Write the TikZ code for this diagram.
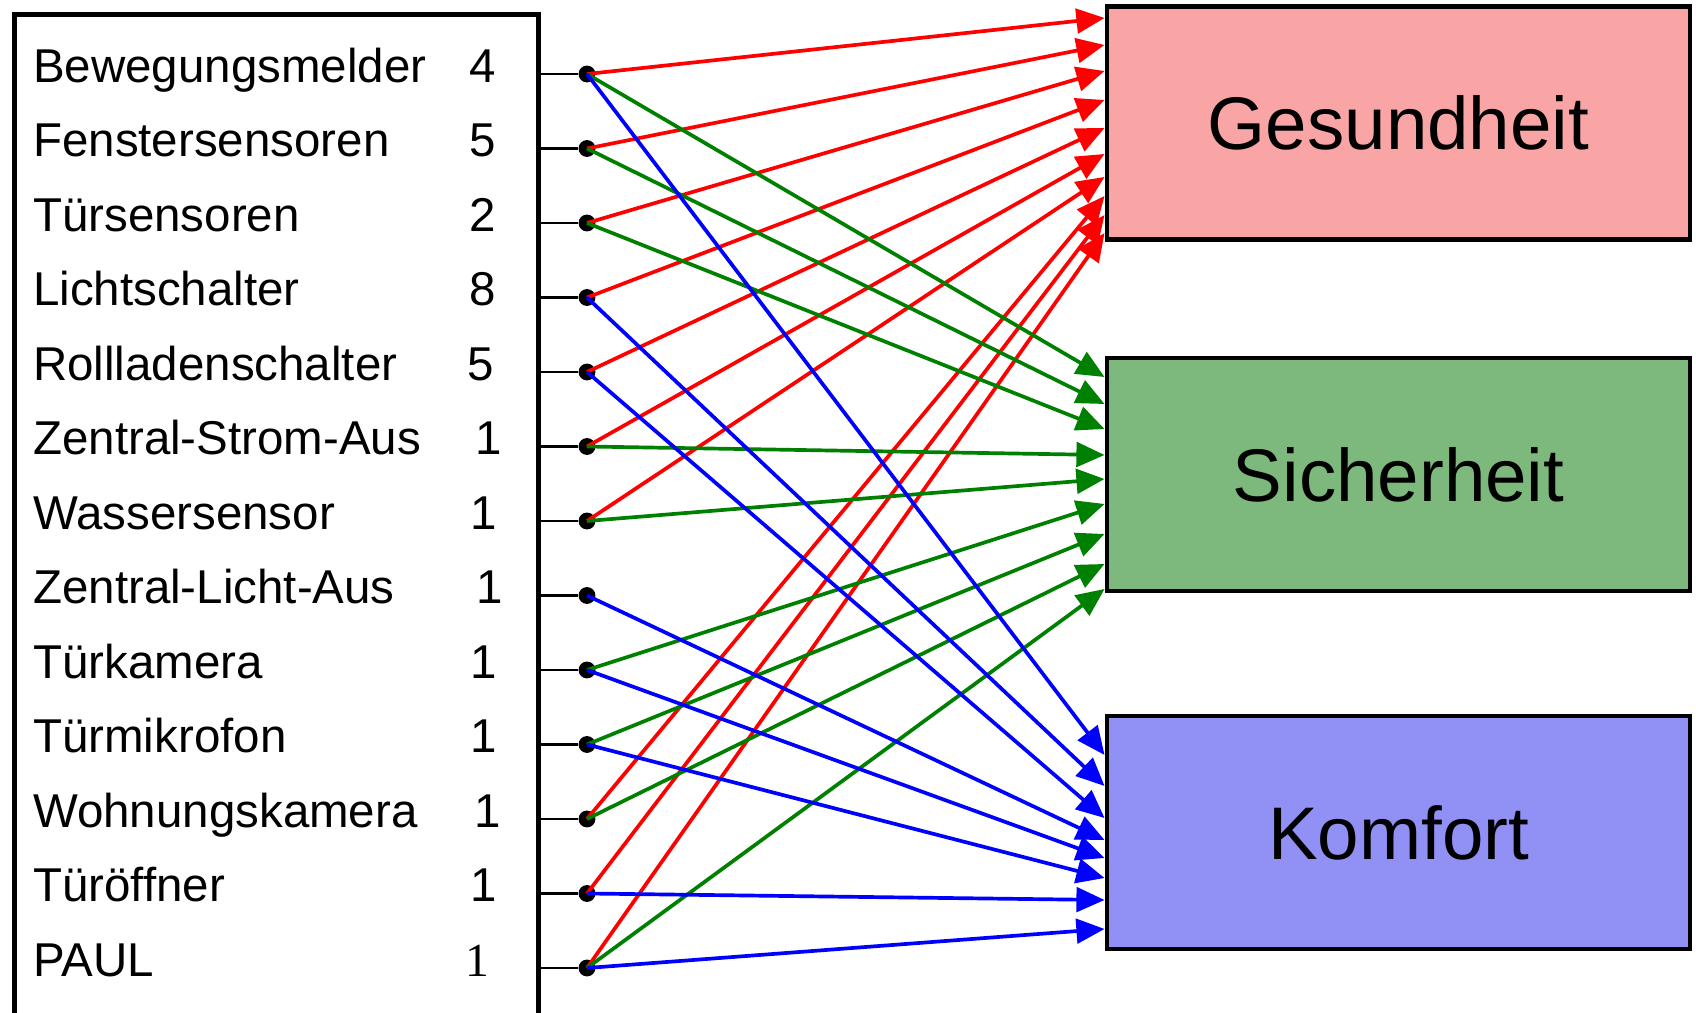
\documentclass[tikz,border=0pt]{standalone}
\usepackage{fontspec}
\setmainfont{Liberation Sans}
\newfontfamily\timesfont{Liberation Serif}
\usetikzlibrary{arrows.meta,shapes}

\definecolor{gesfill}{RGB}{250,165,165}
\definecolor{sichfill}{RGB}{125,185,125}
\definecolor{komffill}{RGB}{145,145,245}
\definecolor{darkgreen}{RGB}{0,128,0}

\begin{document}
\begin{tikzpicture}[x=0.01cm, y=-0.01cm]
	\tikzstyle{arrow}=[draw, line width=1.05pt, -{Triangle[length=8pt,width=7pt]}]
	\tikzstyle{dot}=[circle, fill=black, inner sep=0pt, minimum size=4.8pt]
	\tikzstyle{stub}=[draw, line width=0.75pt]
	\tikzstyle{lbl}=[anchor=base west, inner sep=0pt, font=\fontsize{13.5}{16}\selectfont]
	\tikzstyle{num}=[anchor=base, inner sep=0pt, font=\fontsize{13.5}{16}\selectfont]
	\tikzstyle{catbox}=[draw, line width=1.3pt, minimum width=5.83cm, minimum height=2.33cm, font=\fontsize{21.2}{25}\selectfont]
	\newcommand\Xtxt{32.5}
	\newcommand\Xnum{483}
	\newcommand\Xdot{587}
	\newcommand\Xcat{1398.5}

	\path [use as bounding box, clip] (0,0) rectangle (1696,1013);

	% Sensor list
	\node [draw, line width=1.4pt, anchor=north west, minimum width=5.235cm, minimum height=10.5cm] (list) at (12,12) {};

	\node [lbl] (bewtxt) at (\Xtxt, 82.5) {Bewegungsmelder};
	\node [lbl] (fentxt) at (\Xtxt, 157) {Fenstersensoren};
	\node [lbl] (tsentxt) at (\Xtxt, 231.5) {Türsensoren};
	\node [lbl] (lichttxt) at (\Xtxt, 306) {Lichtschalter};
	\node [lbl] (rolltxt) at (\Xtxt, 380.5) {Rollladenschalter};
	\node [lbl] (stromtxt) at (\Xtxt, 455) {Zentral-Strom-Aus};
	\node [lbl] (wasstxt) at (\Xtxt, 529.5) {Wassersensor};
	\node [lbl] (zlatxt) at (\Xtxt, 604) {Zentral-Licht-Aus};
	\node [lbl] (tkamtxt) at (\Xtxt, 678.5) {Türkamera};
	\node [lbl] (tmiktxt) at (\Xtxt, 753) {Türmikrofon};
	\node [lbl] (wkamtxt) at (\Xtxt, 827.5) {Wohnungskamera};
	\node [lbl] (toeftxt) at (\Xtxt, 902) {Türöffner};
	\node [lbl] (paultxt) at (\Xtxt, 976.5) {PAUL};

	% Counts
	\node [num] (bewnum) at (\Xnum, 82.5) {4};
	\node [num] (fennum) at (\Xnum, 157) {5};
	\node [num] (tsennum) at (\Xnum, 231.5) {2};
	\node [num] (lichtnum) at (\Xnum, 306) {8};
	\node [num] (rollnum) at (481, 380.5) {5};
	\node [num] (stromnum) at (489, 455) {1};
	\node [num] (wassnum) at (484, 529.5) {1};
	\node [num] (zlanum) at (490, 604) {1};
	\node [num] (tkamnum) at (484, 678.5) {1};
	\node [num] (tmiknum) at (484, 753) {1};
	\node [num] (wkamnum) at (488, 827.5) {1};
	\node [num] (toefnum) at (484, 902) {1};
	\node [num, font=\fontsize{13.5}{16}\timesfont] (paulnum) at (477, 976.5) {1};

	% Terminals
	\node [dot] (bew) at (\Xdot, 74) {};
	\node [dot] (fen) at (\Xdot, 148.5) {};
	\node [dot] (tsen) at (\Xdot, 223) {};
	\node [dot] (licht) at (\Xdot, 297.5) {};
	\node [dot] (roll) at (\Xdot, 372) {};
	\node [dot] (strom) at (\Xdot, 446.5) {};
	\node [dot] (wass) at (\Xdot, 521) {};
	\node [dot] (zla) at (\Xdot, 595.5) {};
	\node [dot] (tkam) at (\Xdot, 670) {};
	\node [dot] (tmik) at (\Xdot, 744.5) {};
	\node [dot] (wkam) at (\Xdot, 819) {};
	\node [dot] (toef) at (\Xdot, 893.5) {};
	\node [dot] (paul) at (\Xdot, 968) {};

	\path [stub] (bew) -- (bew -| list.east);
	\path [stub] (fen) -- (fen -| list.east);
	\path [stub] (tsen) -- (tsen -| list.east);
	\path [stub] (licht) -- (licht -| list.east);
	\path [stub] (roll) -- (roll -| list.east);
	\path [stub] (strom) -- (strom -| list.east);
	\path [stub] (wass) -- (wass -| list.east);
	\path [stub] (zla) -- (zla -| list.east);
	\path [stub] (tkam) -- (tkam -| list.east);
	\path [stub] (tmik) -- (tmik -| list.east);
	\path [stub] (wkam) -- (wkam -| list.east);
	\path [stub] (toef) -- (toef -| list.east);
	\path [stub] (paul) -- (paul -| list.east);

	% Categories
	\node [catbox, fill=gesfill] (ges) at (\Xcat, 123) {Gesundheit};
	\node [catbox, fill=sichfill] (sich) at (\Xcat, 474.5) {Sicherheit};
	\node [catbox, fill=komffill] (komf) at (\Xcat, 832.5) {Komfort};

	\coordinate (g1) at (ges.west |- 0,18);
	\coordinate (g2) at (ges.west |- 0,45);
	\coordinate (g3) at (ges.west |- 0,71);
	\coordinate (g4) at (ges.west |- 0,100);
	\coordinate (g5) at (ges.west |- 0,128);
	\coordinate (g6) at (ges.west |- 0,154);
	\coordinate (g7) at (ges.west |- 0,177);
	\coordinate (g8) at (ges.west |- 0,196);
	\coordinate (g9) at (ges.west |- 0,215);
	\coordinate (g10) at (ges.west |- 0,233);

	\coordinate (s1) at (sich.west |- 0,377);
	\coordinate (s2) at (sich.west |- 0,404);
	\coordinate (s3) at (sich.west |- 0,429);
	\coordinate (s4) at (sich.west |- 0,455);
	\coordinate (s5) at (sich.west |- 0,479);
	\coordinate (s6) at (sich.west |- 0,504);
	\coordinate (s7) at (sich.west |- 0,534);
	\coordinate (s8) at (sich.west |- 0,564);
	\coordinate (s9) at (sich.west |- 0,589);

	\coordinate (k1) at (komf.west |- 0,755);
	\coordinate (k2) at (komf.west |- 0,786);
	\coordinate (k3) at (komf.west |- 0,818);
	\coordinate (k4) at (komf.west |- 0,840);
	\coordinate (k5) at (komf.west |- 0,858);
	\coordinate (k6) at (komf.west |- 0,878);
	\coordinate (k7) at (komf.west |- 0,900);
	\coordinate (k8) at (komf.west |- 0,929);

	% Gesundheit
	\path [arrow, red] (bew.center) -- (g1);
	\path [arrow, red] (fen.center) -- (g2);
	\path [arrow, red] (tsen.center) -- (g3);
	\path [arrow, red] (licht.center) -- (g4);
	\path [arrow, red] (roll.center) -- (g5);
	\path [arrow, red] (strom.center) -- (g6);
	\path [arrow, red] (wass.center) -- (g7);
	\path [arrow, red] (wkam.center) -- (g8);
	\path [arrow, red] (toef.center) -- (g9);
	\path [arrow, red] (paul.center) -- (g10);

	% Sicherheit
	\path [arrow, darkgreen] (bew.center) -- (s1);
	\path [arrow, darkgreen] (fen.center) -- (s2);
	\path [arrow, darkgreen] (tsen.center) -- (s3);
	\path [arrow, darkgreen] (strom.center) -- (s4);
	\path [arrow, darkgreen] (wass.center) -- (s5);
	\path [arrow, darkgreen] (tkam.center) -- (s6);
	\path [arrow, darkgreen] (tmik.center) -- (s7);
	\path [arrow, darkgreen] (wkam.center) -- (s8);
	\path [arrow, darkgreen] (paul.center) -- (s9);

	% Komfort
	\path [arrow, blue] (bew.center) -- (k1);
	\path [arrow, blue] (licht.center) -- (k2);
	\path [arrow, blue] (roll.center) -- (k3);
	\path [arrow, blue] (zla.center) -- (k4);
	\path [arrow, blue] (tkam.center) -- (k5);
	\path [arrow, blue] (tmik.center) -- (k6);
	\path [arrow, blue] (toef.center) -- (k7);
	\path [arrow, blue] (paul.center) -- (k8);
\end{tikzpicture}
\end{document}
